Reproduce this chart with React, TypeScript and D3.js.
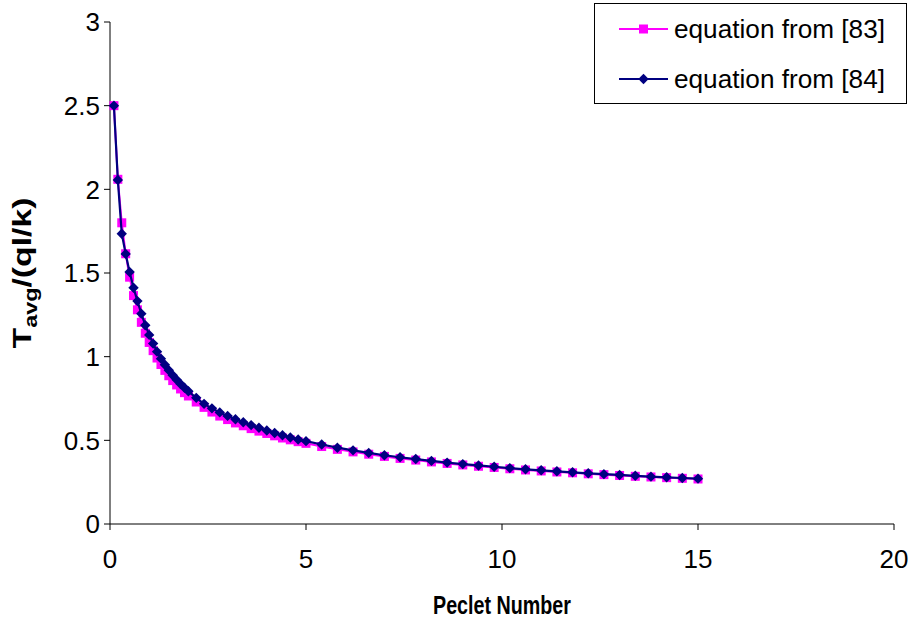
import React from "react";
import * as d3 from "d3";

const peclet = [
  0.1, 0.2, 0.3, 0.4, 0.5, 0.6, 0.7, 0.8, 0.9, 1.0,
  1.1, 1.2, 1.3, 1.4, 1.5, 1.6, 1.7, 1.8, 1.9, 2.0,
  2.2, 2.4, 2.6, 2.8, 3.0, 3.2, 3.4, 3.6, 3.8, 4.0,
  4.2, 4.4, 4.6, 4.8, 5.0, 5.4, 5.8, 6.2, 6.6, 7.0,
  7.4, 7.8, 8.2, 8.6, 9.0, 9.4, 9.8, 10.2, 10.6, 11.0,
  11.4, 11.8, 12.2, 12.6, 13.0, 13.4, 13.8, 14.2, 14.6, 15.0,
];

const eq83 = [
  2.5, 2.06, 1.8, 1.615, 1.475, 1.365, 1.28, 1.205, 1.14, 1.085,
  1.036, 0.992, 0.953, 0.918, 0.886, 0.857, 0.831, 0.807, 0.785, 0.765,
  0.729, 0.697, 0.669, 0.645, 0.624, 0.604, 0.587, 0.57, 0.555, 0.541,
  0.527, 0.514, 0.503, 0.492, 0.482, 0.463, 0.446, 0.431, 0.417, 0.404,
  0.392, 0.382, 0.371, 0.362, 0.353, 0.345, 0.338, 0.33, 0.323, 0.317,
  0.311, 0.306, 0.3, 0.295, 0.29, 0.285, 0.281, 0.277, 0.273, 0.269,
];

const eq84 = [
  2.5, 2.056, 1.735, 1.614, 1.506, 1.412, 1.332, 1.257, 1.188, 1.13,
  1.078, 1.03, 0.988, 0.952, 0.919, 0.889, 0.862, 0.837, 0.814, 0.793,
  0.754, 0.718, 0.691, 0.667, 0.646, 0.626, 0.608, 0.591, 0.575, 0.559,
  0.544, 0.53, 0.517, 0.505, 0.495, 0.475, 0.456, 0.44, 0.425, 0.411,
  0.399, 0.388, 0.377, 0.367, 0.358, 0.35, 0.342, 0.334, 0.327, 0.321,
  0.315, 0.309, 0.303, 0.298, 0.293, 0.288, 0.283, 0.279, 0.275, 0.271,
];

const xTicks = [0, 5, 10, 15, 20];
const yTicks = [0, 0.5, 1, 1.5, 2, 2.5, 3];
const seriesNames = ["equation from [83]", "equation from [84]"];
const seriesColors = ["#FF00FF", "#000080"];

const W = 916;
const H = 624;
const FONT = "'Liberation Sans', Arial, sans-serif";

export default function App() {
  const x = d3.scaleLinear().domain([0, 20]).range([110, 894]);
  const y = d3.scaleLinear().domain([0, 3]).range([524, 22]);

  const line = d3
    .line<number>()
    .x((_, i) => x(peclet[i]))
    .y((d) => y(d));

  const sq = 9;
  const dm = 5.2;
  const diamond = (cx: number, cy: number) =>
    `M${cx},${cy - dm}L${cx + dm},${cy}L${cx},${cy + dm}L${cx - dm},${cy}Z`;

  return (
    <svg
      width={W}
      height={H}
      style={{ position: "absolute", left: 0, top: 0, background: "#fff" }}
    >
      <rect x={0} y={0} width={W} height={H} fill="#fff" />
      {/* axes */}
      <line x1={x(0)} x2={x(0)} y1={y(3)} y2={y(0)} stroke="#000" strokeWidth={1} />
      <line x1={x(0)} x2={x(20)} y1={y(0)} y2={y(0)} stroke="#000" strokeWidth={1} />
      {yTicks.map((t) => (
        <g key={"y" + t}>
          <line x1={x(0) - 6} x2={x(0)} y1={y(t)} y2={y(t)} stroke="#000" />
          <text
            x={x(0) - 10}
            y={y(t)}
            dy="0.36em"
            textAnchor="end"
            fontFamily={FONT}
            fontSize={26}
          >
            {String(t)}
          </text>
        </g>
      ))}
      {xTicks.map((t) => (
        <g key={"x" + t}>
          <line x1={x(t)} x2={x(t)} y1={y(0)} y2={y(0) + 6} stroke="#000" />
          <text
            x={x(t)}
            y={y(0) + 35}
            dy="0.36em"
            textAnchor="middle"
            fontFamily={FONT}
            fontSize={26}
          >
            {String(t)}
          </text>
        </g>
      ))}
      <text
        transform={`translate(${(x(0) + x(20)) / 2},614) scale(1,1.25)`}
        textAnchor="middle"
        fontFamily={FONT}
        fontSize={21}
        fontWeight="bold"
        textLength={138}
        lengthAdjust="spacingAndGlyphs"
      >
        Peclet Number
      </text>
      <text
        transform={`translate(31,${(y(0) + y(3)) / 2}) rotate(-90) scale(1.3,1)`}
        textAnchor="middle"
        fontFamily={FONT}
        fontSize={26}
        fontWeight="bold"
      >
        T<tspan fontSize={18} dy={6}>avg</tspan>
        <tspan dy={-6}>/(ql/k)</tspan>
      </text>

      {/* series 83 */}
      <path d={line(eq83) || ""} fill="none" stroke={seriesColors[0]} strokeWidth={2} />
      {eq83.map((v, i) => (
        <rect
          key={"a" + i}
          x={x(peclet[i]) - sq / 2}
          y={y(v) - sq / 2}
          width={sq}
          height={sq}
          fill={seriesColors[0]}
        />
      ))}
      {/* series 84 */}
      <path d={line(eq84) || ""} fill="none" stroke={seriesColors[1]} strokeWidth={2.2} />
      {eq84.map((v, i) => (
        <path key={"b" + i} d={diamond(x(peclet[i]), y(v))} fill={seriesColors[1]} />
      ))}

      {/* legend */}
      <rect x={594.5} y={3.5} width={312} height={100} fill="#fff" stroke="#000" strokeWidth={1} />
      {seriesNames.map((name, i) => {
        const ly = 29 + i * 50;
        return (
          <g key={name}>
            <line x1={619} x2={668} y1={ly} y2={ly} stroke={seriesColors[i]} strokeWidth={2} />
            {i === 0 ? (
              <rect x={643.5 - sq / 2} y={ly - sq / 2} width={sq} height={sq} fill={seriesColors[i]} />
            ) : (
              <path d={diamond(643.5, ly)} fill={seriesColors[i]} />
            )}
            <text
              x={674}
              y={ly}
              dy="0.36em"
              fontFamily={FONT}
              fontSize={25}
              textLength={211}
              lengthAdjust="spacingAndGlyphs"
            >
              {name}
            </text>
          </g>
        );
      })}
    </svg>
  );
}
